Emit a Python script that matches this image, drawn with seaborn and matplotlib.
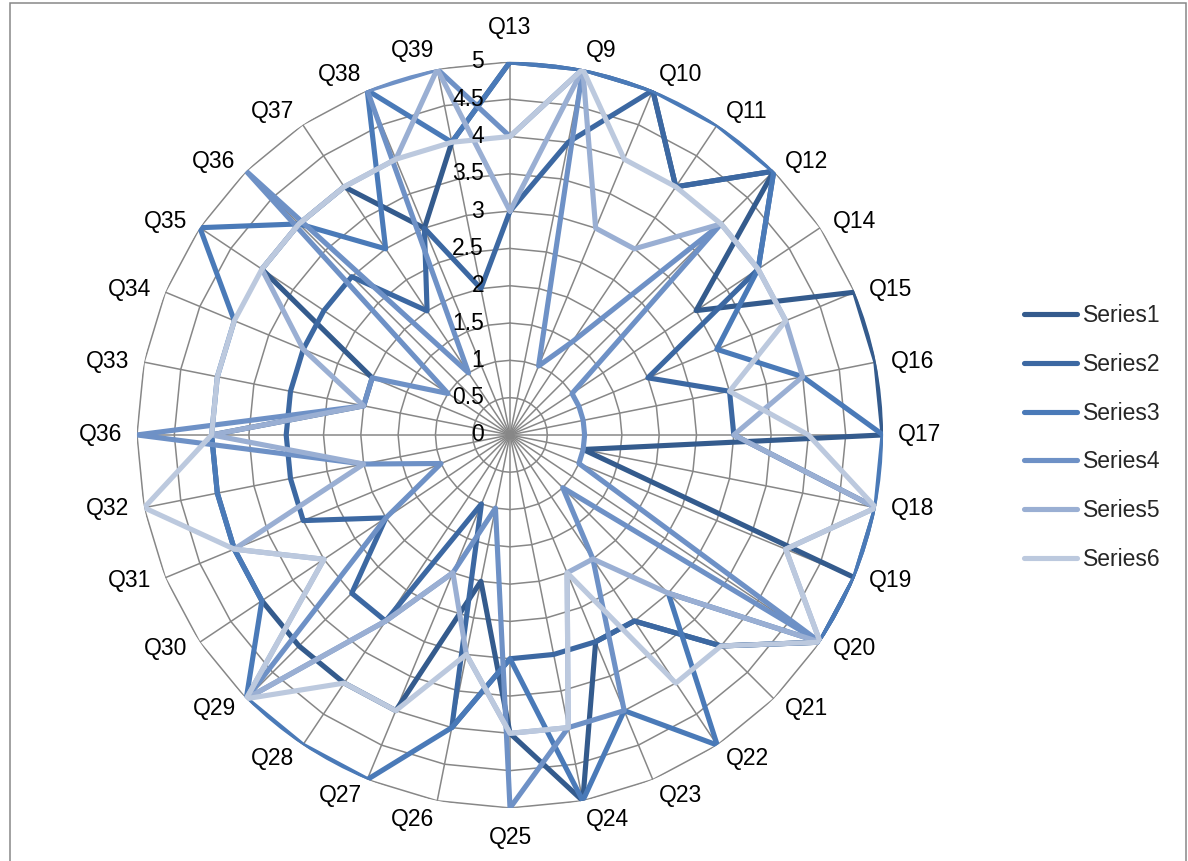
import numpy as np
import pandas as pd
import matplotlib
matplotlib.use("Agg")
import matplotlib.pyplot as plt
import seaborn as sns

sns.set_theme(style="white")
plt.rcParams["font.family"] = ["Liberation Sans", "DejaVu Sans"]

categories = ["Q13", "Q9", "Q10", "Q11", "Q12", "Q14", "Q15", "Q16", "Q17", "Q18",
              "Q19", "Q20", "Q21", "Q22", "Q23", "Q24", "Q25", "Q26", "Q27", "Q28",
              "Q29", "Q30", "Q31", "Q32", "Q36", "Q33", "Q34", "Q35", "Q36", "Q37",
              "Q38", "Q39"]

series1 = [5, 5, 5, 4, 5, 3, 5, 5, 5, 1, 5, 5, 4, 3, 3, 5, 4, 2, 4, 4,
           4, 4, 4, 4, 4, 2, 2, 4, 4, 4, 3, 4]
series2 = [3, 4, 5, 4, 5, 4, 2, 3, 3, 5, 5, 5, 4, 3, 3, 3, 3, 4, 1, 3,
           3, 2, 3, 3, 3, 3, 3, 3, 3, 2, 3, 2]
series3 = [5, 5, 5, 5, 5, 4, 3, 4, 5, 5, 5, 5, 3, 5, 4, 5, 3, 4, 5, 5,
           5, 4, 4, 4, 4, 4, 4, 5, 4, 3, 5, 4]
series4 = [4, 5, 1, 1.5, 4, 1, 1, 1, 1, 1, 1, 5, 1, 2, 4, 4, 5, 1, 2, 3,
           5, 2, 1, 2, 5, 2, 2, 1, 5, 1, 5, 5]
series5 = [3, 5, 3, 3, 4, 4, 4, 4, 3, 5, 4, 5, 3, 2, 2, 4, 4, 3, 2, 3,
           5, 3, 4, 2, 4, 2, 3, 4, 4, 4, 4, 5]
series6 = [4, 5, 4, 4, 4, 4, 4, 3, 4, 5, 4, 5, 4, 4, 2, 4, 4, 3, 4, 4,
           5, 3, 4, 5, 4, 4, 4, 4, 4, 4, 4, 4]

series_names = ["Series1", "Series2", "Series3", "Series4", "Series5", "Series6"]
series_values = [series1, series2, series3, series4, series5, series6]
palette = ["#345b8d", "#3c68a2", "#4a7ab8", "#6e91c6", "#9aafd3", "#bcc9de"]
ticks = [0, 0.5, 1, 1.5, 2, 2.5, 3, 3.5, 4, 4.5, 5]

n = len(categories)
angles = np.arange(n) * 2 * np.pi / n
PX = 100 / 72.0  # pixels per point

fig = plt.figure(figsize=(11.88, 8.61), dpi=100)
fig.patch.set_facecolor("white")
ax = fig.add_axes([0.1153, 0.0616, 0.628, 0.8665], projection="polar")
ax.set_theta_zero_location("N")
ax.set_theta_direction(-1)
ax.set_ylim(0, 5)
ax.grid(False)
ax.spines["polar"].set_visible(False)
ax.set_xticks([])
ax.set_yticks([])
ax.patch.set_alpha(0)

# polygonal web grid
grid_color = "#878787"
closed = np.append(angles, angles[0])
for t in ticks[1:]:
    r = np.full(n + 1, t)
    ax.plot(closed, r, color=grid_color, lw=1.1, zorder=1)
for a in angles:
    ax.plot([a, a], [0, 5], color=grid_color, lw=1.1, zorder=1)

# value labels just left of the top spoke
for t in ticks:
    ax.annotate(f"{t:g}", xy=(0, t), xytext=(-26 / PX, 0), textcoords="offset points",
                ha="right", va="center", fontsize=16.5, color="#000000", zorder=6)

# category labels around the web
for i, (a, c) in enumerate(zip(angles, categories)):
    s, co = np.sin(a), np.cos(a)
    if abs(s) < 0.05:
        ha = "center"
        dx = 0
        dy = 34 if co > 0 else -30
    else:
        ha = "left" if s > 0 else "right"
        dx = 15 * s
        dy = 19 * co * abs(co)
    ax.annotate(c, xy=(a, 5), xytext=(dx / PX, dy / PX), textcoords="offset points",
                ha=ha, va="center", fontsize=16.5, color="#000000",
                annotation_clip=False)

rows = []
for name, vals in zip(series_names, series_values):
    for a, v in zip(np.append(angles, angles[0]), vals + vals[:1]):
        rows.append((name, a, v))
df = pd.DataFrame(rows, columns=["series", "angle", "value"])

for i, name in enumerate(series_names):
    d = df[df["series"] == name]
    sns.lineplot(data=d, x="angle", y="value", ax=ax, color=palette[i], lw=3.7,
                 sort=False, estimator=None, label=name, zorder=3 + i * 0.1)

ax.set_xlabel("")
ax.set_ylabel("")
handles, labels = ax.get_legend_handles_labels()
ax.get_legend().remove()
leg = fig.legend(handles, labels, loc="center left", bbox_to_anchor=(0.845, 0.492),
                 frameon=False, fontsize=16.5, handlelength=2.3, labelspacing=1.12,
                 handletextpad=0.25)
for h in leg.get_lines():
    h.set_linewidth(3.7)
    h.set_solid_capstyle("round")

# outer chart frame
frame = plt.Rectangle((10 / 1188, -0.05), 1176 / 1188, 1.05 - 3 / 861,
                      transform=fig.transFigure, fill=False,
                      edgecolor="#878787", lw=1.1)
fig.patches.append(frame)

fig.savefig("out.png", dpi=100)
